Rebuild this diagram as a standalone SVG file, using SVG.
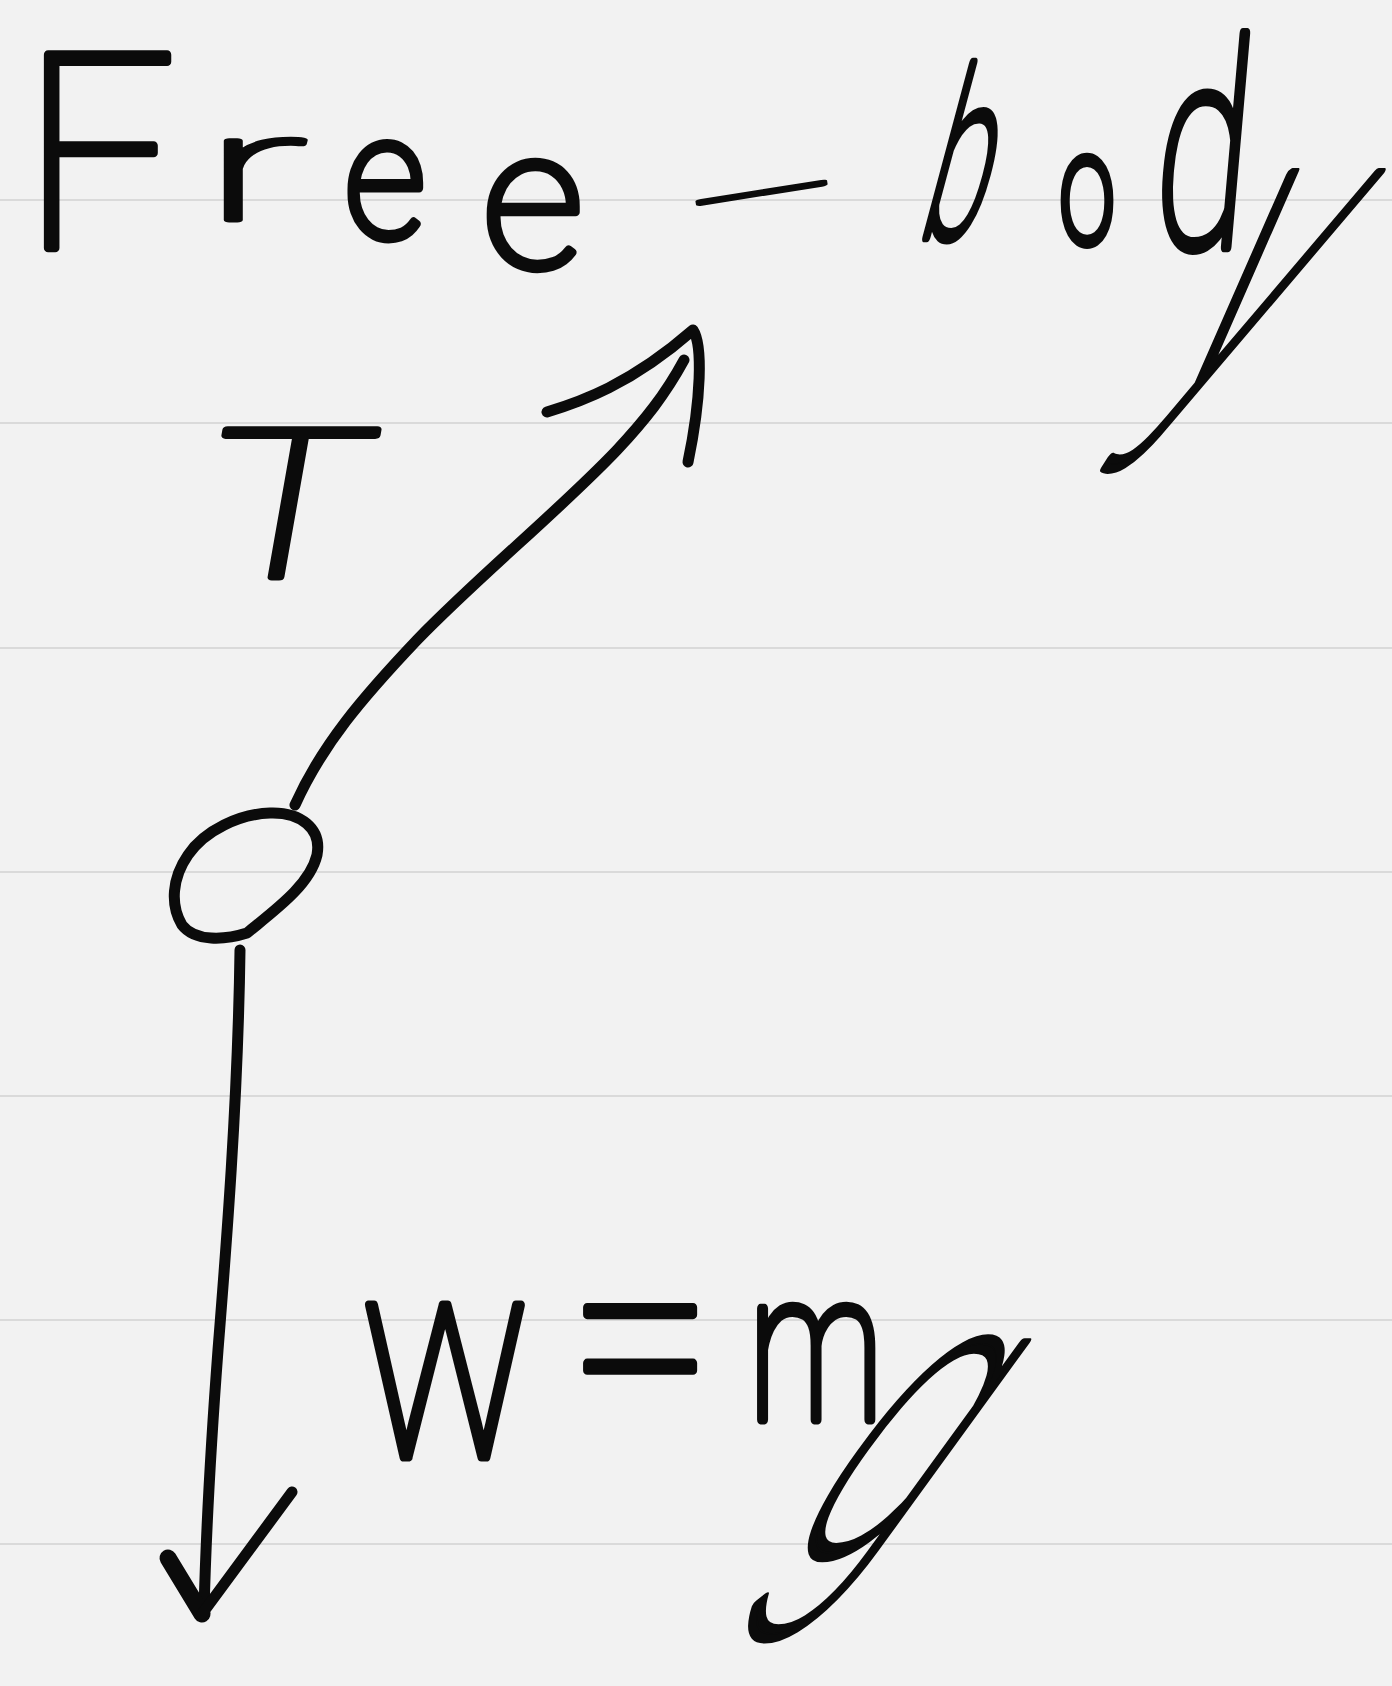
<svg xmlns="http://www.w3.org/2000/svg" width="1392" height="1686" viewBox="0 0 1392 1686">
<style>
.rule{stroke:#dadada;stroke-width:2.2;fill:none}
.ink{fill:none;stroke:#0b0b0b;stroke-width:11;stroke-linecap:round;stroke-linejoin:round}
.hw{font-family:"Roboto","Inter","Liberation Sans",sans-serif;font-weight:100;font-size:100px;text-anchor:middle;fill:#0b0b0b;stroke:#0b0b0b;stroke-width:8.5;stroke-linejoin:round;stroke-linecap:round;vector-effect:non-scaling-stroke}
</style>
<rect width="1392" height="1686" fill="#f2f2f2"/>
<g id="paper">
<line class="rule" x1="0" y1="200" x2="1392" y2="200"/>
<line class="rule" x1="0" y1="423" x2="1392" y2="423"/>
<line class="rule" x1="0" y1="648" x2="1392" y2="648"/>
<line class="rule" x1="0" y1="872" x2="1392" y2="872"/>
<line class="rule" x1="0" y1="1096" x2="1392" y2="1096"/>
<line class="rule" x1="0" y1="1320" x2="1392" y2="1320"/>
<line class="rule" x1="0" y1="1544" x2="1392" y2="1544"/>
</g>
<g id="title">
<text class="hw" transform="translate(99,248) scale(2.7,2.72)">F</text>
<text class="hw" transform="translate(255,220) scale(3.1,1.5)">r</text>
<text class="hw" transform="translate(385,237) scale(1.6,1.74)">e</text>
<text class="hw" transform="translate(533,267) scale(2.0,1.95)">e</text>
<text class="hw" transform="translate(764,196) rotate(-9) scale(5.3,1.4)" y="30">-</text>
<text class="hw" transform="translate(947,237) skewX(-15) scale(1.15,2.32)">b</text>
<text class="hw" transform="translate(1087,242) scale(1.0,1.57)">o</text>
<text class="hw" transform="translate(1196,247) skewX(-5) scale(1.7,2.85)">d</text>
<text class="hw" transform="translate(1198,384) skewX(-33) scale(2.1,4.0)">y</text>
</g>
<g id="label-T">
<text class="hw" transform="translate(276,577) skewX(-10) scale(2.75,2.07)">T</text>
</g>
<g id="label-W">
<text class="hw" transform="translate(445,1457) scale(1.8,2.14)">W</text>
<text class="hw" transform="translate(641,1430) scale(2.6,2.8)">=</text>
<text class="hw" transform="translate(816,1420) scale(1.5,2.1)">m</text>
<text class="hw" transform="translate(832,1554) skewX(-36) scale(2.2,4.0)">g</text>
</g>
<g id="body">
<path class="ink" d="M247,933 C275,910 310,885 317,855 C322,828 300,812 270,813 C240,814 205,830 188,855 C172,878 170,905 182,925 C195,942 225,940 247,933 Z"/>
</g>
<g id="connectors">
<path class="ink" d="M295,805 C322,745 362,698 417,640 C480,575 560,510 617,450 C645,420 665,395 684,360"/>
<path class="ink" d="M547,412 C580,402 630,385 693,330 C703,345 701,400 688,462"/>
<path class="ink" d="M240,950 C238,1100 226,1250 218,1350 C212,1430 206,1530 204,1612"/>
<path class="ink" style="stroke-width:17" d="M168,1558 L202,1614"/>
<path class="ink" d="M202,1614 L292,1492"/>
</g>
</svg>
